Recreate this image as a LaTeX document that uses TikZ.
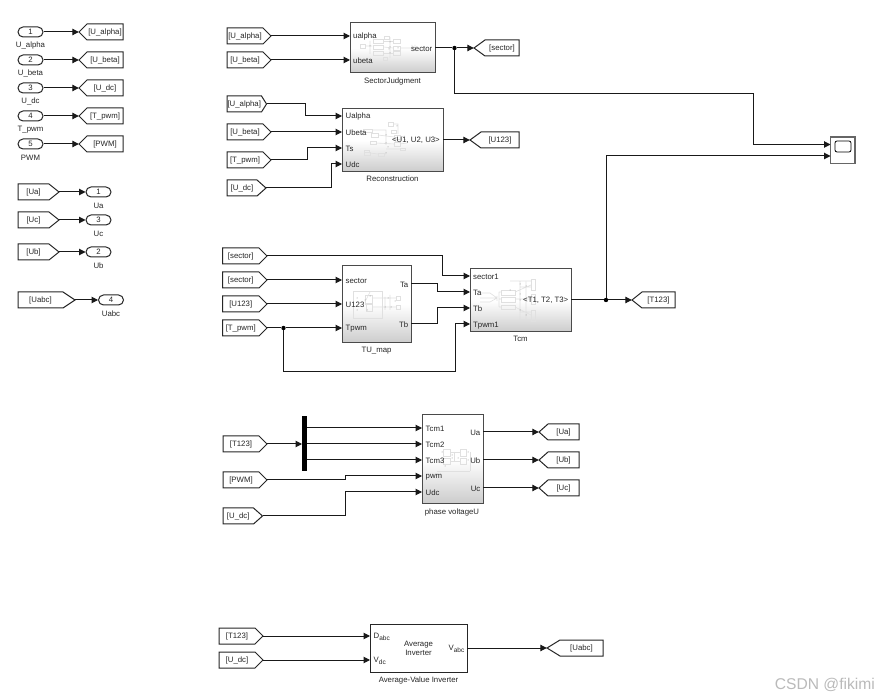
\documentclass[tikz,border=0pt]{standalone}
\usepackage{fontspec}
\setmainfont{Liberation Sans}
\usetikzlibrary{arrows.meta,shapes.misc}
\definecolor{edgec}{HTML}{4A4A4A}
\tikzset{
  tbase/.style={font=\fontsize{7.8}{9}\selectfont, inner sep=0pt, text=black!85},
  txt/.style={tbase, yshift=-0.7pt},
  tagbox/.style={draw=black!85, line width=1pt, fill=white},
  tagnode/.style={tbase, minimum height=16pt},
  inp/.style={rounded rectangle, draw=black!85, line width=1pt, fill=white, minimum width=25pt, minimum height=10pt, inner sep=0pt, font=\fontsize{7.8}{9}\selectfont, text=black!85},
  wire/.style={line width=1pt, draw=black!90, -{Triangle[length=6.5pt,width=6.5pt]}},
  bare/.style={line width=1pt, draw=black!90},
  subsys/.style={draw=edgec, line width=1pt, top color=white, bottom color=black!20, middle color=white, inner sep=0pt, outer sep=0pt},
  whitebox/.style={draw=black!85, line width=1pt, fill=white, inner sep=0pt, outer sep=0pt},
  dot/.style={circle, fill=black, inner sep=0pt, minimum size=4.4pt},
  port/.style={txt, anchor=west},
  oport/.style={txt, anchor=east},
  thumb/.style={draw=black!12, line width=0.6pt},
  tdot/.style={fill=black!45}
}
% from-tag: optional tip depth, name, x-left, x-tip, y, text
\newcommand{\fromtag}[6][8]{%
  \draw[tagbox] (#3,{#5-8}) -- ({#4-#1},{#5-8}) -- (#4,#5) -- ({#4-#1},{#5+8}) -- (#3,{#5+8}) -- cycle;
  \node[tagnode, minimum width={#4-#3}] (#2) at ({(#3+#4)/2},#5) {\raisebox{-0.7pt}{#6}\hspace*{#1pt}};}
% goto-tag: optional tip depth, name, x-tip, x-right, y, text
\newcommand{\gototag}[6][8]{%
  \draw[tagbox] (#4,{#5-8}) -- ({#3+#1},{#5-8}) -- (#3,#5) -- ({#3+#1},{#5+8}) -- (#4,{#5+8}) -- cycle;
  \node[tagnode, minimum width={#4-#3}] (#2) at ({(#3+#4)/2},#5) {\hspace*{#1pt}\raisebox{-0.7pt}{#6}};}
% block: name, x1, y1, x2, y2, style
\newcommand{\blockat}[6]{%
  \node[#6, minimum width={#4-#2}, minimum height={#5-#3}] (#1) at ({(#2+#4)/2},{(#3+#5)/2}) {};}
\newcommand{\tdots}[1]{\foreach \dx/\dy in {#1} {\fill[tdot] (\dx,\dy) circle (0.5);}}
\begin{document}
\begin{tikzpicture}[x=1pt,y=-1pt]
\useasboundingbox[fill=white] (0,0) rectangle (879,700);

% ---------- left column: inports ----------
\foreach \n/\lab/\tagtxt/\y in {1/U\_alpha/[U\_alpha]/32, 2/U\_beta/[U\_beta]/60, 3/U\_dc/[U\_dc]/88, 4/T\_pwm/[T\_pwm]/116, 5/PWM/[PWM]/144} {
  \node[inp] (in\n) at (30.5,\y) {\n};
  \node[txt] (inlab\n) at (30.5,{\y+13}) {\lab};
  \gototag{gin\n}{79}{123}{\y}{\tagtxt}
  \draw[wire] (in\n.east) -- (gin\n.west);
}
% left column: outports
\foreach \n/\lab/\y/\tagx/\px/\d in {1/Ua/192/59/98.5/10, 3/Uc/220/59/98.5/10, 2/Ub/252/59/98.5/10, 4/Uabc/300/75/111/12} {
  \fromtag[\d]{fout\lab}{18}{\tagx}{\y}{[\lab]}
  \node[inp] (out\lab) at (\px,\y) {\n};
  \node[txt] (outlab\lab) at (\px,{\y+13}) {\lab};
  \draw[wire] (fout\lab.east) -- (out\lab.west);
}

% ---------- SectorJudgment ----------
\blockat{sj}{350}{23}{435}{73}{subsys}
\foreach \a/\b/\c/\e in {373/39.5/383.5/43.5, 373/45/383.5/49.5, 373/51.5/383.5/55.5, 393/39.5/400/43.5, 393/46/400/50, 393/51.5/400/55.5, 384/36/389/39, 383/57/387/60, 360/44/365/48} {
  \draw[thumb] (\a,\b) rectangle (\c,\e);}
\draw[thumb] (365,46) -- (372,46) (383.5,41.5) -- (393,41.5) (383.5,47) -- (393,48) (383.5,53.5) -- (393,53.5) (400,48) -- (412,48) (412,45) -- (412,51) (415,45) -- (415,51) (389,37.5) -- (390,37.5) -- (390,58) (370,41) -- (370,54);
\tdots{370/46,390/42,390/47,390/53,389/49,398/48}
\node[port] (sjp1) at (353,36) {ualpha};
\node[port] (sjp2) at (353,60) {ubeta};
\node[oport] (sjo) at (432.5,48) {sector};
\node[txt] (sjn) at (392.5,80.5) {SectorJudgment};
\coordinate (sjin1) at (350,36);
\coordinate (sjin2) at (350,60);
\fromtag{fa1}{227}{271}{36}{[U\_alpha]}
\fromtag{fb1}{227}{271}{60}{[U\_beta]}
\gototag[11]{gsec}{474}{519}{48}{[sector]}
\draw[wire] (fa1.east) -- (sjin1);
\draw[wire] (fb1.east) -- (sjin2);
\node[dot] (jsec) at (454.5,48) {};
\coordinate (sjout) at (435,48);
\draw[bare] (sjout) -- (jsec);
\draw[wire] (jsec) -- (gsec.west);

% ---------- Reconstruction ----------
\blockat{re}{342}{109}{443}{171.5}{subsys}
\foreach \a/\b/\c/\e in {363/129/372/132, 371/133.5/378/137, 370/141/376/144, 364/150/369/152, 364/152/370/155, 378/153/384/156, 388/122/393/126, 391/130/396/133, 394/135/400/139, 394/142/400/146, 400/148/405/150} {
  \draw[thumb] (\a,\b) rectangle (\c,\e);}
\draw[thumb] (372,130) -- (386,130) -- (386,145) (378,135) -- (394,137) (376,143) -- (394,144) (393,124) -- (398,124) -- (398,134) (370,153) -- (378,154) (384,154) -- (386,154) (400,137) -- (405,136) (400,144) -- (407,143) (386,149) -- (400,149);
\tdots{386/135,386/143,386/153,397/126,397/138,405/140,388/147}
\node[port] (rep1) at (345.5,116) {Ualpha};
\node[port] (rep2) at (345.5,132) {Ubeta};
\node[port] (rep3) at (345.5,148) {Ts};
\node[port] (rep4) at (345.5,164) {Udc};
\node[oport] (reo) at (440,140) {<U1, U2, U3>};
\node[txt] (ren) at (392.5,178) {Reconstruction};
\coordinate (rein1) at (342,116);
\coordinate (rein2) at (342,132);
\coordinate (rein3) at (342,148);
\coordinate (rein4) at (342,164);
\coordinate (reout) at (443,140);
\fromtag[5]{fa2}{227}{266.5}{104}{[U\_alpha]}
\fromtag{fb2}{227}{271}{132}{[U\_beta]}
\fromtag{ft2}{227}{271}{160}{[T\_pwm]}
\fromtag[9]{fd2}{227}{266}{188}{[U\_dc]}
\gototag[11]{gu}{470}{519}{140}{[U123]}
\coordinate (e1) at (305,116);
\coordinate (e3) at (307.5,148);
\coordinate (e4) at (331,164);
\draw[wire] (fa2.east) -| (e1) -- (rein1);
\draw[wire] (fb2.east) -- (rein2);
\draw[wire] (ft2.east) -| (e3) -- (rein3);
\draw[wire] (fd2.east) -| (e4) -- (rein4);
\draw[wire] (reout) -- (gu.west);

% ---------- TU_map ----------
\blockat{tu}{342}{266}{411}{343}{subsys}
\draw[thumb] (353,291) rectangle (382,318);
\foreach \a/\b/\c/\e in {365/295/372/304, 366/303/372/311, 396/296/400/300, 396/305/400/309} {
  \draw[thumb] (\a,\b) rectangle (\c,\e);}
\draw[thumb] (372,298) -- (390,298) -- (396,298) (372,307) -- (396,307) (366,300) -- (370,292) (385,297) -- (385,310) (390,295) -- (390,310);
\tdots{357/298,357/310,365/300,367/310,370/296,388/298,391/307,395/301,385/307}
\node[port] (tup1) at (345.5,280.5) {sector};
\node[port] (tup2) at (345.5,304) {U123};
\node[port] (tup3) at (345.5,328) {Tpwm};
\node[oport] (tuo1) at (408.5,284.5) {Ta};
\node[oport] (tuo2) at (408.5,324.5) {Tb};
\node[txt] (tun) at (376.5,349.5) {TU\_map};
\coordinate (tuin1) at (342,280);
\coordinate (tuin2) at (342,304);
\coordinate (tuin3) at (342,328);
\coordinate (tuout1) at (411,284);
\coordinate (tuout2) at (411,324);
\fromtag{fs1}{222.5}{267}{256}{[sector]}
\fromtag{fs2}{222.5}{267}{280}{[sector]}
\fromtag{fu}{222.5}{267}{304}{[U123]}
\fromtag{ft3}{222.5}{267}{328}{[T\_pwm]}
\draw[wire] (fs2.east) -- (tuin1);
\draw[wire] (fu.east) -- (tuin2);
\node[dot] (jt) at (283.5,328) {};
\draw[bare] (ft3.east) -- (jt);
\draw[wire] (jt) -- (tuin3);

% ---------- Tcm ----------
\blockat{tc}{470}{269}{571}{332}{subsys}
\foreach \a/\b/\c/\e in {501/290/515/295, 501/297/515/302, 501/305/515/309, 531/279/535/290, 531/294/535/304, 531/310/535/321} {
  \draw[thumb] (\a,\b) rectangle (\c,\e);}
\draw[thumb] (480,293) -- (490,293) (480,298) -- (490,298) (480,302) -- (490,302) (490,293) -- (497,298) (490,298) -- (497,298) (490,302) -- (497,298) (497,296) -- (497,301) (499,292) -- (499,307) (499,292) -- (501,292) (499,299) -- (501,299) (499,307) -- (501,307) (515,292) -- (531,285) (515,299) -- (531,299) (515,307) -- (531,315) (510,281) -- (531,281) (520,281) -- (520,322) (526,282) -- (526,320) (520,320) -- (531,320) (520,287) -- (531,287) (520,312) -- (531,312);
\tdots{520/284,520/294,520/300,520/310,526/286,526/299,526/315,510/290}
\node[port] (tcp1) at (473,276.5) {sector1};
\node[port] (tcp2) at (473,292.5) {Ta};
\node[port] (tcp3) at (473,308.5) {Tb};
\node[port] (tcp4) at (473,324.5) {Tpwm1};
\node[oport] (tco) at (568.5,300) {<T1, T2, T3>};
\node[txt] (tcn) at (520.5,338) {Tcm};
\coordinate (tcin1) at (470,276);
\coordinate (tcin2) at (470,292);
\coordinate (tcin3) at (470,308);
\coordinate (tcin4) at (470,324);
\coordinate (tcout) at (571,300);
\gototag[10]{gt}{632}{675}{300}{[T123]}
\coordinate (e5) at (442,276);
\coordinate (e6) at (437,292);
\coordinate (e7) at (437.5,308);
\coordinate (e8a) at (283.5,372);
\coordinate (e8b) at (455,372);
\coordinate (e8c) at (455,324);
\draw[wire] (fs1.east) -| (e5) -- (tcin1);
\draw[wire] (tuout1) -| (e6) -- (tcin2);
\draw[wire] (tuout2) -| (e7) -- (tcin3);
\draw[wire] (jt) -- (e8a) -- (e8b) -- (e8c) -- (tcin4);
\node[dot] (jtc) at (606,300) {};
\draw[bare] (tcout) -- (jtc);
\draw[wire] (jtc) -- (gt.west);

% ---------- Scope ----------
\blockat{sc}{830.5}{137}{855}{163.5}{draw=black!60, line width=1.1pt, fill=white}
\node[draw=black, line width=0.8pt, rounded corners=2pt, minimum width=16pt, minimum height=11pt, fill=white, inner sep=0pt] (scr) at (843,146.5) {};
\coordinate (scin1) at (830.5,144.5);
\coordinate (scin2) at (830.5,156);
\coordinate (s1a) at (454.5,93.5);
\coordinate (s1b) at (753.5,93.5);
\coordinate (s1c) at (753.5,144.5);
\coordinate (s2a) at (606,156);
\draw[wire] (jsec) -- (s1a) -- (s1b) -- (s1c) -- (scin1);
\draw[wire] (jtc) -- (s2a) -- (scin2);

% ---------- phase voltageU ----------
\node[fill=black, minimum width=5pt, minimum height=55pt, inner sep=0pt, outer sep=0pt] (dm) at (304.5,444) {};
\blockat{pv}{422}{415}{483}{503.5}{subsys}
\foreach \a/\b/\c/\e in {443/449/450/456, 443/458/450/464, 460/449/466/456, 460/458/466/464} {
  \draw[thumb] (\a,\b) rectangle (\c,\e);}
\draw[thumb] (450,452) -- (460,452) (450,461) -- (460,461) (437,471) -- (470,471) (470,452) -- (470,471) (454,452) -- (454,461);
\tdots{442/452,442/460,452/455,452/458,468/452,468/460,458/458,445/466}
\node[port] (pvp1) at (425.5,428.5) {Tcm1};
\node[port] (pvp2) at (425.5,444.5) {Tcm2};
\node[port] (pvp3) at (425.5,460.5) {Tcm3};
\node[port] (pvp4) at (425.5,476.5) {pwm};
\node[port] (pvp5) at (425.5,492.5) {Udc};
\node[oport] (pvo1) at (480.5,432.5) {Ua};
\node[oport] (pvo2) at (480.5,460.5) {Ub};
\node[oport] (pvo3) at (480.5,488.5) {Uc};
\node[txt] (pvn) at (452,512) {phase voltageU};
\foreach \i/\y in {1/428,2/444,3/460,4/476,5/492} {\coordinate (pvin\i) at (422,\y);}
\foreach \i/\y in {1/432,2/460,3/488} {\coordinate (pvout\i) at (483,\y);}
\fromtag{ft4}{223}{267}{444}{[T123]}
\fromtag{fp}{223}{267}{480}{[PWM]}
\fromtag[9]{fd3}{223}{262.5}{516}{[U\_dc]}
\gototag[9]{g1}{539}{579}{432}{[Ua]}
\gototag[9]{g2}{539}{579}{460}{[Ub]}
\gototag[9]{g3}{539}{579}{488}{[Uc]}
\coordinate (dm1) at (307,428);
\coordinate (dm3) at (307,460);
\coordinate (e9) at (345.5,476);
\coordinate (e10) at (345.5,492);
\draw[wire] (ft4.east) -- (dm.west);
\draw[wire] (dm1) -- (pvin1);
\draw[wire] (dm.east) -- (pvin2);
\draw[wire] (dm3) -- (pvin3);
\draw[wire] (fp.east) -| (e9) -- (pvin4);
\draw[wire] (fd3.east) -| (e10) -- (pvin5);
\draw[wire] (pvout1) -- (g1.west);
\draw[wire] (pvout2) -- (g2.west);
\draw[wire] (pvout3) -- (g3.west);

% ---------- Average-Value Inverter ----------
\blockat{av}{370}{624}{467}{672}{whitebox}
\node[port] (avp1) at (373.5,636) {D\raisebox{-2.5pt}{\fontsize{6.5}{7}\selectfont abc}};
\node[port] (avp2) at (373.5,660) {V\raisebox{-2.5pt}{\fontsize{6.5}{7}\selectfont dc}};
\node[oport] (avo) at (464.5,648) {V\raisebox{-2.5pt}{\fontsize{6.5}{7}\selectfont abc}};
\node[txt, align=center] (avt) at (418.5,648) {Average\\Inverter};
\node[txt] (avn) at (418.5,679.5) {Average-Value Inverter};
\coordinate (avin1) at (370,636);
\coordinate (avin2) at (370,660);
\coordinate (avout) at (467,648);
\fromtag{ft5}{219}{263}{636}{[T123]}
\fromtag{fd4}{219}{263}{660}{[U\_dc]}
\gototag[13]{gua}{547}{603}{648}{[Uabc]}
\draw[wire] (ft5.east) -- (avin1);
\draw[wire] (fd4.east) -- (avin2);
\draw[wire] (avout) -- (gua.west);

% ---------- watermark ----------
\node[anchor=east, inner sep=0pt, text=black!27, font=\fontsize{15.6}{17}\selectfont] (wm) at (875,685) {CSDN @fikimi};
\end{tikzpicture}
\end{document}
